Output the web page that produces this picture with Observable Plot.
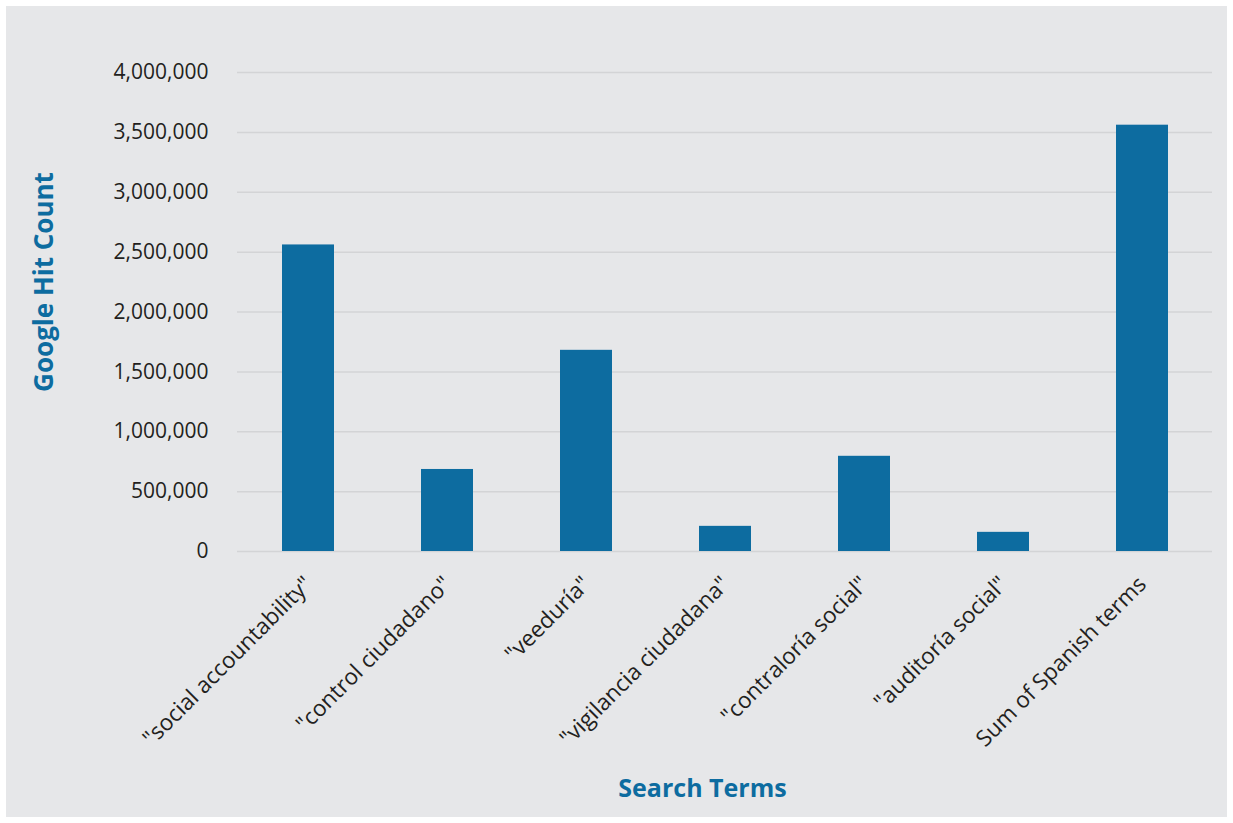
<!DOCTYPE html>
<html><head><meta charset="utf-8">
<script src="https://cdn.jsdelivr.net/npm/d3@7"></script>
<script src="https://cdn.jsdelivr.net/npm/@observablehq/plot@0.6"></script>
<style>
body{margin:0;background:#fff;width:1233px;height:823px;overflow:hidden}
#chart{position:absolute;left:6px;top:6px}
</style>
</head><body><div id="chart"></div>
<script>
const terms = ["\"social accountability\"", "\"control ciudadano\"", "\"veeduría\"", "\"vigilancia ciudadana\"", "\"contraloría social\"", "\"auditoría social\"", "Sum of Spanish terms"];
const hits = [2560000, 685000, 1680000, 210000, 795000, 160000, 3560000];
const yTicks = [0, 500000, 1000000, 1500000, 2000000, 2500000, 3000000, 3500000, 4000000];
const yLabel = "Google Hit Count";
const xLabel = "Search Terms";

const data = terms.map((t, i) => ({term: t, hits: hits[i]}));
const blue = "#0d6ca0";

const chart = Plot.plot({
  width: 1221, height: 811,
  marginLeft: 231, marginRight: 15, marginTop: 66, marginBottom: 266,
  style: {background: "#e6e7e9", fontFamily: "'Open Sans', sans-serif", fontSize: "21px", color: "#231f20", overflow: "visible"},
  x: {domain: terms, paddingInner: 0.627, paddingOuter: 0.3135, axis: null},
  y: {domain: [0, 4000000], axis: null},
  marks: [
    Plot.gridY(yTicks, {stroke: "#d3d4d6", strokeOpacity: 1, strokeWidth: 1.5}),
    Plot.barY(data, {x: "term", y: "hits", fill: blue}),
    Plot.axisY(yTicks, {tickSize: 0, tickPadding: 29, tickFormat: d3.format(","), label: null, fontSize: 21}),
    Plot.axisX({tickSize: 0, tickPadding: 29, tickRotate: -45, label: null, fontSize: 22.5}),
    Plot.text([yLabel], {text: d => d, frameAnchor: "left", textAnchor: "middle", rotate: -90, dx: -193, dy: -30, fill: blue, fontWeight: "bold", fontSize: 26}),
    Plot.text([xLabel], {text: d => d, frameAnchor: "bottom", textAnchor: "middle", dx: -22.5, dy: 245, fill: blue, fontWeight: "bold", fontSize: 25})
  ]
});
document.getElementById("chart").appendChild(chart);
</script>
</body></html>
